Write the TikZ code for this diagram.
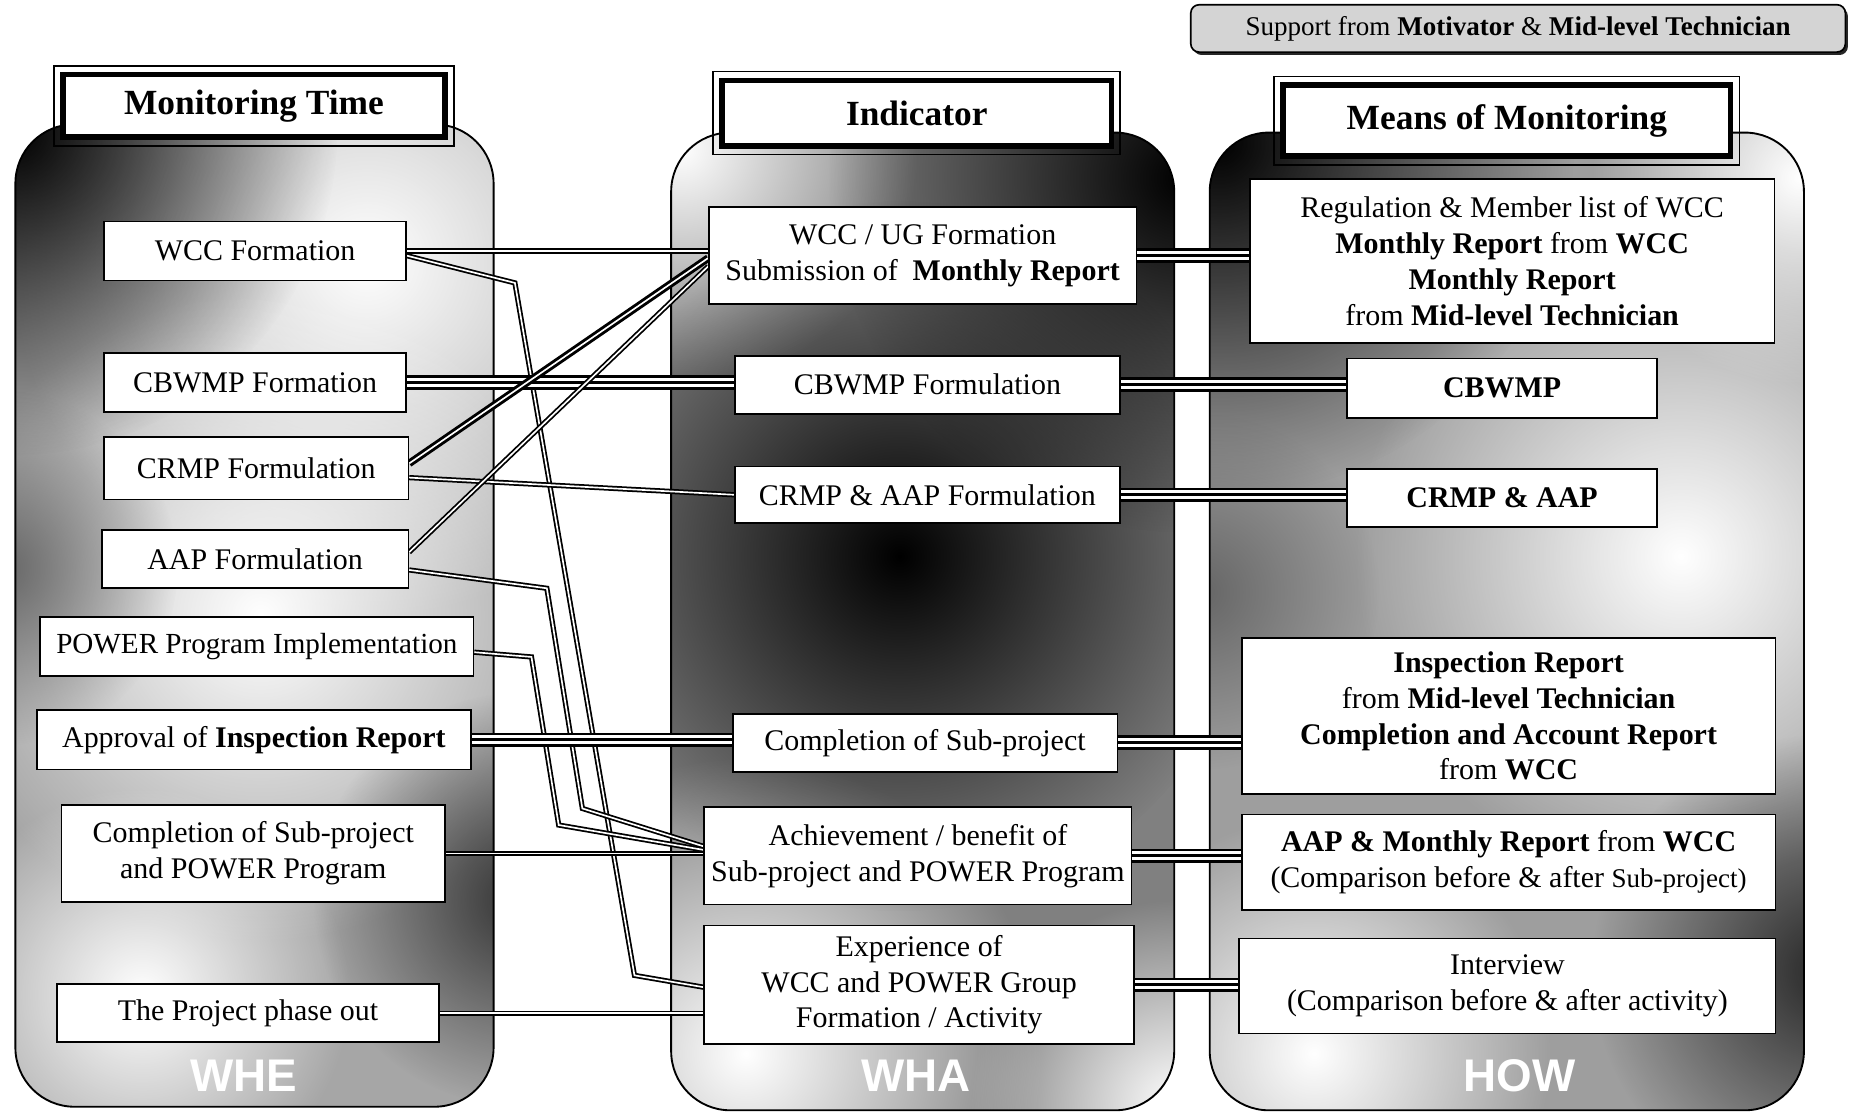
\documentclass[tikz,border=0pt]{standalone}
\usepackage{fontspec}
\setmainfont{Liberation Serif}
\newfontfamily\tagfont{Liberation Sans}
\usetikzlibrary{calc,fit,fadings,shadows}

\pgfdeclarelayer{back}
\pgfdeclarelayer{wires}
\pgfsetlayers{back,wires,main}

\tikzfading[name=glow,inner color=transparent!0,outer color=transparent!100]

\begin{document}
\begin{tikzpicture}[x=0.2mm,y=-0.2mm,
 cell/.style={draw,line width=0.8pt,fill=white,align=center,inner sep=1pt,
  font=\fontsize{14.4}{17.2}\selectfont},
 cellb/.style={cell,font=\bfseries\fontsize{14.4}{17.2}\selectfont},
 hdr/.style={draw,line width=2.8pt,fill=white,inner sep=0pt,
  font=\bfseries\fontsize{17}{20}\selectfont},
 hdrframe/.style={draw,line width=0.8pt,inner sep=1mm},
 note/.style={draw,line width=0.8pt,rounded corners=4pt,fill=black!17,
  drop shadow={shadow xshift=1.2pt,shadow yshift=-1.4pt,fill=black!85,opacity=1},
  font=\fontsize{13}{15}\selectfont},
 col/.style={draw,line width=0.9pt,rounded corners=10mm},
 tag/.style={text=white,font=\tagfont\bfseries\fontsize{22}{22}\selectfont},
 dbl/.style={draw=black,double=white,line width=0.85pt,double distance=0.8pt},
 dblh/.style={draw=black,double=white,line width=1.4pt,double distance=0.8pt},
 tri/.style={preaction={draw=black,line width=7pt},draw=white,line width=4.4pt,
  postaction={draw=black,line width=1.6pt}}]
\useasboundingbox (0,0) rectangle (1568,942);

\begin{pgfonlayer}{back}
\begin{scope}
 \clip[rounded corners=10mm] (13,105) rectangle (417,935);
 \fill[black!35] (13,105) rectangle (417,935);
 \fill[white,path fading=glow] (310,220) circle (60mm);
 \fill[white,path fading=glow] (220,520) circle (55mm);
 \fill[white,path fading=glow] (120,840) circle (35mm);
 \fill[black,path fading=glow] (10,110) circle (55mm);
 \fill[black!60,path fading=glow] (0,480) circle (30mm);
 \fill[black!80,path fading=glow] (440,760) circle (35mm);
\end{scope}
\draw[col] (13,105) rectangle (417,935);
\begin{scope}
 \clip[rounded corners=10mm] (567,112) rectangle (992,938);
 \fill[black!50] (567,112) rectangle (992,938);
 \fill[white,path fading=glow] (575,125) circle (40mm);
 \fill[white,path fading=glow] (630,890) circle (50mm);
 \fill[white,path fading=glow] (995,935) circle (35mm);
 \fill[black,path fading=glow] (1000,150) circle (60mm);
 \fill[black,path fading=glow] (760,470) circle (60mm);
\end{scope}
\draw[col] (567,112) rectangle (992,938);
\begin{scope}
 \clip[rounded corners=10mm] (1022,112) rectangle (1524,938);
 \fill[black!38] (1022,112) rectangle (1524,938);
 \fill[white,path fading=glow] (1420,470) circle (55mm);
 \fill[white,path fading=glow] (1520,150) circle (35mm);
 \fill[white,path fading=glow] (1110,890) circle (40mm);
 \fill[black,path fading=glow] (1030,120) circle (60mm);
 \fill[black!60,path fading=glow] (1015,500) circle (30mm);
 \fill[black!85,path fading=glow] (1545,820) circle (40mm);
\end{scope}
\draw[col] (1022,112) rectangle (1524,938);
\end{pgfonlayer}

\node[hdr,minimum width=64.6mm,minimum height=10.6mm] (hwhen) at (214.5,89.5) {Monitoring Time};
\node[hdrframe,fit=(hwhen)] (fwhen) {};
\node[hdr,minimum width=65.8mm,minimum height=11mm] (hwhat) at (774.5,95.5) {Indicator};
\node[hdrframe,fit=(hwhat)] (fwhat) {};
\node[hdr,minimum width=75.6mm,minimum height=12mm] (hhow) at (1273,102) {Means of Monitoring};
\node[hdrframe,fit=(hhow)] (fhow) {};
\node[note,minimum width=110.6mm,minimum height=8mm] (support) at (1282.5,24)
 {Support from \textbf{Motivator} \& \textbf{Mid-level Technician}};

\node[cell,minimum width=51mm,minimum height=10mm] (wcc) at (215.5,212) {WCC Formation};
\node[cell,minimum width=51mm,minimum height=10mm] (cbf) at (215.5,323) {CBWMP Formation};
\node[cell,minimum width=51.4mm,minimum height=10.6mm] (crf) at (216.5,395.5) {CRMP Formulation};
\node[cell,minimum width=51.8mm,minimum height=9.8mm] (aapf) at (215.5,472.5) {AAP Formulation};
\node[cell,minimum width=73.2mm,minimum height=10mm,font=\fontsize{14}{17}\selectfont] (pwr) at (217,546) {POWER Program Implementation};
\node[cell,minimum width=73.4mm,minimum height=10mm] (appr) at (214.5,625) {Approval of \textbf{Inspection Report}};
\node[cell,minimum width=64.8mm,minimum height=16.4mm] (cmp) at (214,721) {Completion of Sub-project\\and POWER Program};
\node[cell,minimum width=64.6mm,minimum height=9.8mm] (phase) at (209.5,856) {The Project phase out};

\node[cell,minimum width=72.2mm,minimum height=16.4mm] (ug) at (779.5,216) {WCC / UG Formation\\Submission of \ \textbf{Monthly Report}};
\node[cell,minimum width=65mm,minimum height=9.8mm] (cbl) at (783.5,325) {CBWMP Formulation};
\node[cell,minimum width=65mm,minimum height=9.6mm] (crl) at (783.5,418) {CRMP \& AAP Formulation};
\node[cell,minimum width=65mm,minimum height=9.8mm] (csub) at (781.5,627.5) {Completion of Sub-project};
\node[cell,minimum width=72.2mm,minimum height=16.4mm] (ach) at (775.5,723) {Achievement / benefit of\\Sub-project and POWER Program};
\node[cell,minimum width=72.6mm,minimum height=20mm] (exp) at (776.5,832) {Experience of\\WCC and POWER Group\\Formation / Activity};

\node[cell,minimum width=88.6mm,minimum height=27.8mm] (reg) at (1277.5,220.5)
 {Regulation \& Member list of WCC\\\textbf{Monthly Report} from \textbf{WCC}\\\textbf{Monthly Report}\\from \textbf{Mid-level Technician}};
\node[cellb,minimum width=52.4mm,minimum height=10mm] (cb) at (1269,328) {CBWMP};
\node[cellb,minimum width=52.4mm,minimum height=9.8mm] (cra) at (1269,420.5) {CRMP \& AAP};
\node[cell,minimum width=90.2mm,minimum height=26.4mm] (insp) at (1274.5,605)
 {\textbf{Inspection Report}\\from \textbf{Mid-level Technician}\\\textbf{Completion and Account Report}\\from \textbf{WCC}};
\node[cell,minimum width=90.2mm,minimum height=16.2mm] (aapm) at (1274.5,728.5)
 {\textbf{AAP \& Monthly Report} from \textbf{WCC}\\(Comparison before \& after {\fontsize{13}{15}\selectfont Sub-project)}};
\node[cell,minimum width=90.6mm,minimum height=16mm] (intv) at (1273.5,833) {Interview\\(Comparison before \& after activity)};

\node[tag] (twhen) at (206,909) {WHE};
\node[tag] (twhat) at (774,909) {WHA};
\node[tag] (thow) at (1284,909) {HOW};

\begin{pgfonlayer}{wires}
\draw[dbl] (wcc.east) -- (wcc.east -| ug.west);
\draw[dbl] ($(wcc.east)+(0,4)$) -- (435,239) -- (536,824) -- ($(exp.west)+(0,2)$);
\draw[tri] (cbf.east) -- (cbf.east -| cbl.west);
\draw[dblh] ($(crf.east)+(0,-4)$) -- ($(ug.west)+(0,2)$);
\draw[dbl] ($(crf.east)+(0,8)$) -- (crl.west);
\draw[dbl] ($(aapf.east)+(0,-6)$) -- ($(ug.west)+(0,9)$);
\draw[dbl] ($(aapf.east)+(0,9)$) -- (462,497) -- (492,683) -- ($(ach.west)+(0,-8)$);
\draw[dbl] ($(pwr.east)+(0,5)$) -- (449,555) -- (472,697) -- ($(ach.west)+(0,-5)$);
\draw[tri] (appr.east) -- (appr.east -| csub.west);
\draw[dbl] (cmp.east) -- (cmp.east -| ach.west);
\draw[dbl] (phase.east) -- (phase.east -| exp.west);
\draw[tri] (ug.east) -- (ug.east -| reg.west);
\draw[tri] (cbl.east) -- (cbl.east -| cb.west);
\draw[tri] (crl.east) -- (crl.east -| cra.west);
\draw[tri] (csub.east) -- (csub.east -| insp.west);
\draw[tri] (ach.east) -- (ach.east -| aapm.west);
\draw[tri] (exp.east) -- (exp.east -| intv.west);
\end{pgfonlayer}
\end{tikzpicture}
\end{document}
